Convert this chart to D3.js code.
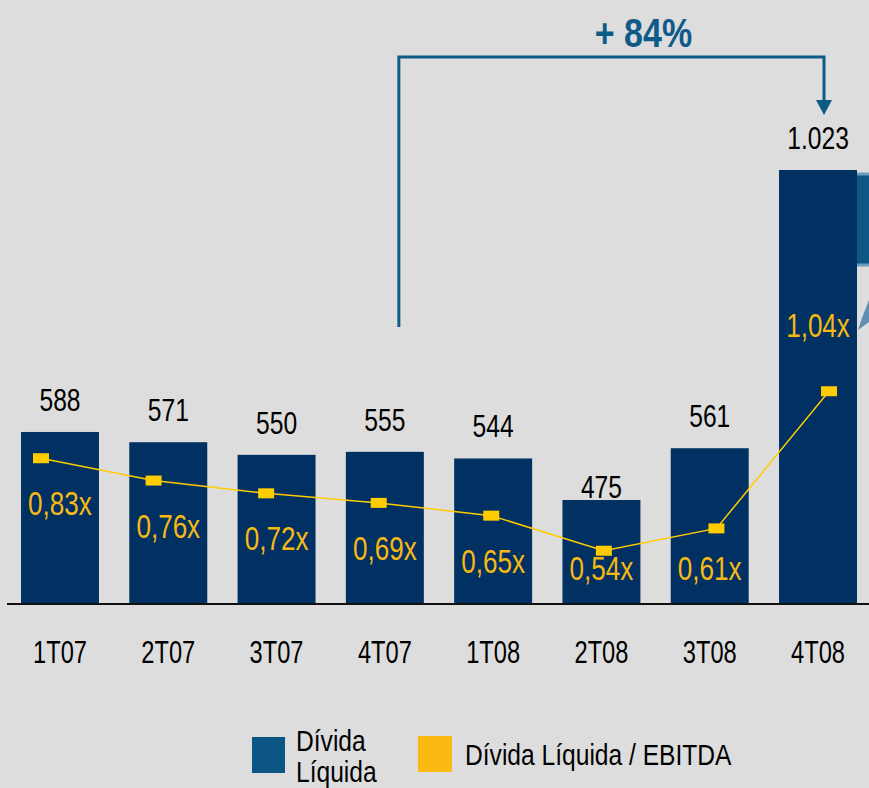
<!DOCTYPE html>
<html>
<head>
<meta charset="utf-8">
<script src="https://cdn.jsdelivr.net/npm/d3@7"></script>
<style>
  html, body { margin: 0; padding: 0; background: #dddddd; }
  svg { display: block; }
  text { font-family: "Liberation Sans", Arial, sans-serif; }
</style>
</head>
<body>
<svg id="viz"></svg>
<script>
// ----------------------------------------------------------------------------------------------------------------
// DATA

var quarters = ["1T07", "2T07", "3T07", "4T07", "1T08", "2T08", "3T08", "4T08"];
var netDebt = [588, 571, 550, 555, 544, 475, 561, 1023];
var netDebtLabels = ["588", "571", "550", "555", "544", "475", "561", "1.023"];
var debtEbitda = [0.83, 0.76, 0.72, 0.69, 0.65, 0.54, 0.61, 1.04];
var debtEbitdaLabels = ["0,83x", "0,76x", "0,72x", "0,69x", "0,65x", "0,54x", "0,61x", "1,04x"];
var growthLabel = "+ 84%";
var legendNames = ["Dívida Líquida", "Dívida Líquida / EBITDA"];

// ----------------------------------------------------------------------------------------------------------------
// INITIAL SETUP

var w = 869;
var h = 788;
var viz = d3.select("#viz").attr("width", w).attr("height", h);

var navy = "#003162";
var blue = "#0e5a88";
var gold = "#ffcc00";
var goldText = "#f7b814";

viz.append("rect").attr("width", w).attr("height", h).attr("fill", "#dddddd");

// scales
var x = d3.scaleBand().domain(quarters).range([21, 857]).paddingInner(0.28).paddingOuter(0);
var y = d3.scaleLinear().domain([304, 1023]).range([603, 170]);
var xLine = d3.scalePoint().domain(quarters).range([41, 829]);
var yLine = d3.scaleLinear().domain([0, 1.5]).range([723, 244.5]);

// the original uses a narrow font: place text at (tx, ty) and squeeze it horizontally
function narrow(sel, tx, ty, k) {
  sel.attr("x", 0).attr("y", 0)
    .attr("transform", function(d, i) {
      var a = typeof tx == "function" ? tx(d, i) : tx;
      var b = typeof ty == "function" ? ty(d, i) : ty;
      return "translate(" + a + "," + b + ") scale(" + (k || 0.77) + ",1)";
    });
  return sel;
}

// ----------------------------------------------------------------------------------------------------------------
// CHART

// right-edge decoration (partly cut off in the original)
viz.append("rect")
  .attr("x", 850).attr("y", 174).attr("width", 30).attr("height", 91)
  .attr("fill", "#0d5785").attr("stroke", "#6c9dbd").attr("stroke-width", 3);
viz.append("path")
  .attr("d", "M869,300 L862,318 L858,330 L869,322 Z")
  .attr("fill", "#5f8fb3");

// draw the bars
viz.selectAll("rect.bar")
  .data(netDebt)
  .enter()
  .append("rect")
  .attr("class", "bar")
  .attr("x", function(d, i) { return x(quarters[i]); })
  .attr("y", function(d) { return y(d); })
  .attr("width", x.bandwidth())
  .attr("height", function(d) { return y.range()[0] - y(d); })
  .attr("fill", navy);

// bar values
viz.selectAll("text.val")
  .data(netDebt)
  .enter()
  .append("text")
  .attr("class", "val")
  .attr("text-anchor", "middle")
  .attr("font-size", 32)
  .attr("fill", "#000")
  .text(function(d, i) { return netDebtLabels[i]; })
  .call(narrow,
    function(d, i) { return x(quarters[i]) + x.bandwidth() / 2; },
    function(d, i) { return y(d) - (i == 5 ? 2 : 21); });

// base line
viz.append("line")
  .attr("x1", 7).attr("x2", w)
  .attr("y1", 604).attr("y2", 604)
  .attr("stroke", "#111").attr("stroke-width", 2);

// category names
viz.selectAll("text.name")
  .data(quarters)
  .enter()
  .append("text")
  .attr("class", "name")
  .attr("text-anchor", "middle")
  .attr("font-size", 32)
  .attr("fill", "#000")
  .text(function(d) { return d; })
  .call(narrow, function(d) { return x(d) + x.bandwidth() / 2; }, 663, 0.74);

// ratio line
var line = d3.line()
  .x(function(d, i) { return xLine(quarters[i]); })
  .y(function(d) { return yLine(d); });

viz.append("path")
  .datum(debtEbitda)
  .attr("d", line)
  .attr("fill", "none")
  .attr("stroke", gold)
  .attr("stroke-width", 1.5);

viz.selectAll("rect.marker")
  .data(debtEbitda)
  .enter()
  .append("rect")
  .attr("class", "marker")
  .attr("x", function(d, i) { return xLine(quarters[i]) - 8; })
  .attr("y", function(d) { return yLine(d) - 5; })
  .attr("width", 16)
  .attr("height", 10)
  .attr("fill", gold);

// ratio labels
viz.selectAll("text.ratio")
  .data(debtEbitda)
  .enter()
  .append("text")
  .attr("class", "ratio")
  .attr("text-anchor", "middle")
  .attr("font-size", 33)
  .attr("fill", goldText)
  .text(function(d, i) { return debtEbitdaLabels[i]; })
  .call(narrow,
    function(d, i) { return x(quarters[i]) + x.bandwidth() / 2; },
    function(d) {
      if (d > 1) return yLine(d) - 54;
      return Math.min(yLine(d) + 57, 580);
    }, 0.79);

// ----------------------------------------------------------------------------------------------------------------
// GROWTH ANNOTATION

var xFrom = x("4T07") + x.bandwidth() / 2 + 14;
var xTo = x("4T08") + x.bandwidth() / 2 + 6;
var topY = 57;

viz.append("path")
  .attr("d", "M" + xFrom + ",327 L" + xFrom + "," + topY + " L" + xTo + "," + topY + " L" + xTo + ",102")
  .attr("fill", "none")
  .attr("stroke", blue)
  .attr("stroke-width", 3);

viz.append("path")
  .attr("d", "M" + (xTo - 8) + ",100 L" + (xTo + 8) + ",100 L" + xTo + ",115 Z")
  .attr("fill", blue);

viz.append("text")
  .attr("text-anchor", "middle")
  .attr("font-size", 40)
  .attr("font-weight", "bold")
  .attr("fill", blue)
  .text(growthLabel)
  .call(narrow, (xFrom + xTo) / 2 + 32, 47, 0.85);

// ----------------------------------------------------------------------------------------------------------------
// LEGEND

var legend = viz.append("g");

legend.append("rect")
  .attr("x", 252).attr("y", 737).attr("width", 33).attr("height", 36)
  .attr("fill", "#0a5583");
legend.append("text")
  .attr("font-size", 30).attr("fill", "#000")
  .text(legendNames[0].split(" ")[0])
  .call(narrow, 296, 751, 0.82);
legend.append("text")
  .attr("font-size", 30).attr("fill", "#000")
  .text(legendNames[0].split(" ")[1])
  .call(narrow, 296, 782, 0.82);

legend.append("rect")
  .attr("x", 418).attr("y", 736).attr("width", 34).attr("height", 36)
  .attr("fill", "#fdb913");
legend.append("text")
  .attr("font-size", 30).attr("fill", "#000")
  .text(legendNames[1])
  .call(narrow, 465, 765, 0.82);
</script>
</body>
</html>
